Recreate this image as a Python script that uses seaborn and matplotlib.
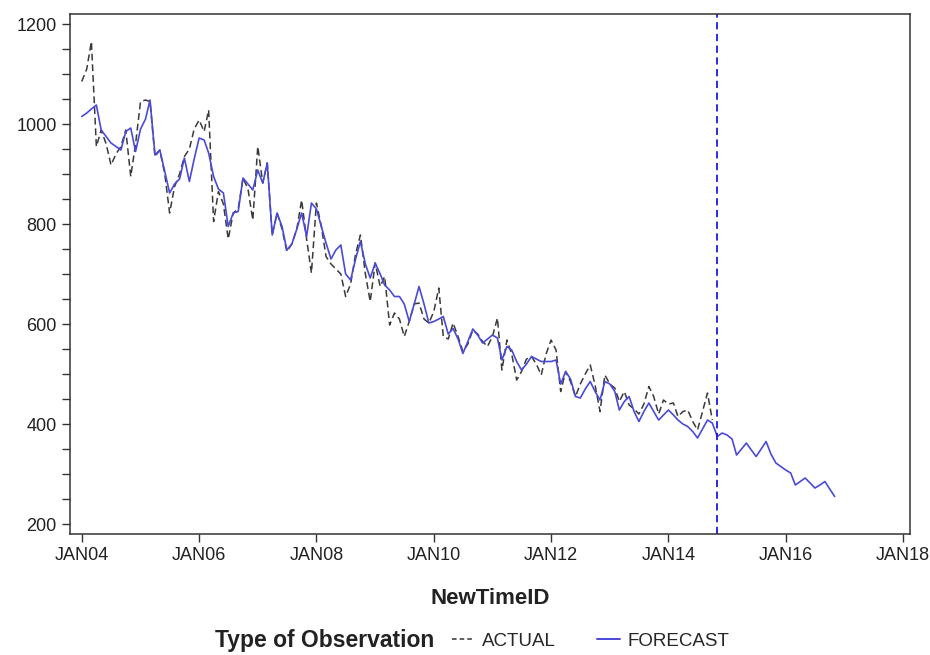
import numpy as np
import pandas as pd
import matplotlib
matplotlib.use("Agg")
import matplotlib.pyplot as plt
from matplotlib.lines import Line2D
import seaborn as sns

actual = [1085, 1110, 1165, 955, 988, 960, 918, 940, 955, 988, 895, 960,
          1045, 1048, 1045, 935, 948, 900, 822, 875, 900, 935, 950, 990,
          1008, 985, 1028, 805, 865, 840, 770, 822, 830, 892, 870, 808,
          955, 882, 922, 778, 822, 790, 745, 760, 790, 848, 770, 702,
          842, 795, 735, 720, 710, 700, 655, 680, 740, 778, 700, 645,
          722, 675, 695, 598, 622, 610, 575, 605, 640, 642, 610, 602,
          625, 672, 575, 570, 602, 575, 545, 560, 588, 580, 565, 555,
          575, 612, 508, 568, 540, 488, 505, 530, 535, 520, 498, 540,
          568, 548, 465, 505, 485, 455, 480, 500, 518, 478, 425, 498,
          480, 472, 445, 465, 438, 430, 420, 440, 475, 455, 420, 448,
          440, 442, 415, 425, 428, 405, 388, 425, 462, 408]

forecast = [1015, 1022, 1030, 1038, 988, 975, 962, 955, 948, 985, 992, 945,
            990, 1010, 1048, 938, 948, 905, 862, 880, 890, 932, 885, 930,
            972, 968, 942, 895, 870, 862, 795, 822, 825, 892, 880, 868,
            908, 882, 922, 778, 822, 795, 748, 760, 790, 822, 775, 842,
            830, 795, 762, 730, 748, 758, 700, 688, 730, 765, 720, 692,
            722, 700, 678, 668, 655, 655, 640, 605, 640, 675, 640, 602,
            605, 610, 615, 580, 591, 570, 541, 565, 590, 578, 562, 570,
            578, 572, 528, 555, 548, 525, 508, 520, 535, 530, 525, 525,
            525, 528, 480, 505, 490, 455, 452, 470, 485, 465, 448, 485,
            480, 465, 428, 445, 455, 425, 405, 425, 442, 425, 408, 418,
            428, 418, 408, 400, 395, 385, 372, 390, 408, 402, 375, 382,
            378, 370, 338, 350, 362, 348, 335, 350, 365, 340, 322, 315,
            308, 302, 278, 285, 292, 282, 272, 278, 285, 270, 255]

start_date = "2004-01-01"
forecast_start = "2014-11-01"
tick_years = list(range(2004, 2019, 2))
tick_labels = ["JAN%02d" % (y % 100) for y in tick_years]
y_ticks = [200, 400, 600, 800, 1000, 1200]

act_dates = pd.date_range(start_date, periods=len(actual), freq="MS")
fc_dates = pd.date_range(start_date, periods=len(forecast), freq="MS")
df_act = pd.DataFrame({"date": act_dates, "value": actual})
df_fc = pd.DataFrame({"date": fc_dates, "value": forecast})

sns.set_style("ticks")
plt.rcParams["font.family"] = ["Liberation Sans Narrow", "Liberation Sans", "DejaVu Sans"]

fig = plt.figure(figsize=(9.3, 6.55), dpi=100)
ax = fig.add_axes([0.0753, 0.1847, 0.9027, 0.7939])

blue = "#4a4ad8"
sns.lineplot(data=df_act, x="date", y="value", ax=ax, color="#3a3a3a",
             linewidth=1.1, linestyle=(0, (4.5, 2.5)))
sns.lineplot(data=df_fc, x="date", y="value", ax=ax, color=blue, linewidth=1.2)
ax.axvline(pd.Timestamp(forecast_start), color="#1a1ae6", linewidth=1.3,
           linestyle=(0, (4, 2.5)))

ax.set_ylim(180, 1220)
ax.set_xlim(pd.Timestamp("2003-10-20"), pd.Timestamp("2018-02-10"))
ax.set_yticks(y_ticks)
ax.set_yticks(np.arange(200, 1201, 50), minor=True)
ax.set_xticks([pd.Timestamp("%d-01-01" % y) for y in tick_years])
ax.set_xticklabels(tick_labels)
ax.tick_params(axis="both", which="major", length=6, width=1, labelsize=13,
               color="#333333", labelcolor="#222222", direction="out")
ax.tick_params(axis="y", which="minor", length=6, width=1, color="#333333")
for s in ax.spines.values():
    s.set_color("#333333")
    s.set_linewidth(1.1)

ax.set_ylabel("")
ax.set_xlabel("NewTimeID", fontsize=16, fontweight="bold", labelpad=17, color="#222222")

fig.text(0.231, 0.022, "Type of Observation", fontsize=16.5, fontweight="bold",
         color="#222222", ha="left", va="center")
handles = [Line2D([0], [0], color="#333333", linestyle=(0, (3, 2)), linewidth=1.1),
           Line2D([0], [0], color=blue, linewidth=1.4)]
fig.legend(handles, ["ACTUAL", "FORECAST"], loc="center left",
           bbox_to_anchor=(0.486, 0.021), ncol=2, frameon=False, fontsize=13.5,
           handlelength=1.2, handletextpad=0.4, columnspacing=2.2,
           borderpad=0, borderaxespad=0)

fig.savefig("out.png", dpi=100)
